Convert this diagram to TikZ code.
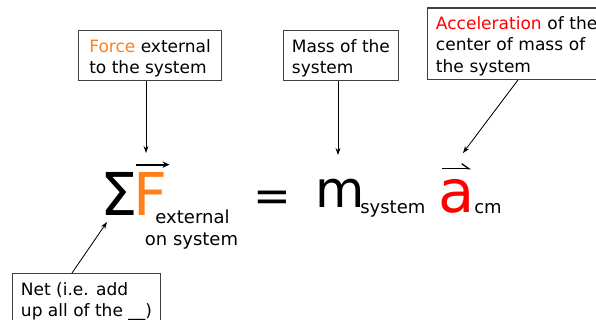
\documentclass[tikz,border=0pt]{standalone}
\usepackage{fontspec}
\setmainfont{DejaVu Sans}
\usetikzlibrary{arrows.meta, positioning}
\definecolor{forceOrange}{HTML}{FF7F1A}
\definecolor{accelRed}{HTML}{FF0000}
\definecolor{boxGray}{HTML}{404040}
\newcommand{\ls}{\rule[-2.2pt]{0pt}{15.1pt}}

\begin{document}
\begin{tikzpicture}[
    x=0.025cm, y=-0.025cm,
    note/.style={rectangle, draw=boxGray, line width=0.75pt, align=left,
                 font=\fontsize{12.1}{15.15}\selectfont,
                 inner xsep=6pt, inner ysep=2.5pt, anchor=north west},
    big/.style={inner sep=0pt, anchor=base west, font=\fontsize{#1}{#1}\selectfont},
    sub/.style={inner sep=0pt, anchor=base, font=\fontsize{12.8}{15}\selectfont},
    pointer/.style={-{Stealth[length=5pt, width=3.5pt]}, line width=0.6pt},
    vecF/.style={-{Stealth[length=5pt, width=4.5pt]}, line width=1.2pt},
    vecA/.style={-{Straight Barb[harpoon, length=5pt, width=7pt, line width=0.9pt]}, line width=0.9pt}
  ]
    \useasboundingbox (0,0) rectangle (596,320);

    % labels
    \node[note, minimum width=3.575cm] (forcebox) at (78,30)
      {\ls\textcolor{forceOrange}{Force} external\\\ls to the system};
    \node[note] (massbox) at (283,30)
      {\ls Mass of the\\\ls system};
    \node[note, text width=4.5cm] (accbox) at (427,7.5)
      {\ls\textcolor{accelRed}{Acceleration} of the\\\ls center of mass of\\\ls the system};
    \node[note] (netbox) at (12,273)
      {\ls Net (i.e. add\\\ls up all of the \_\_)};

    % equation
    \node[big=42] (sigma) at (100,215) {Σ};
    \node[big=42, text=forceOrange] (force) at (133,215) {F};
    \draw[vecF] ([shift={(3,-7)}]force.north west) -- ([shift={(2,-7)}]force.north east);
    \node[sub] (ext) at (192.5,223) {external};
    \node[sub] (onsys) at (191.5,245) {on system};
    \node[big=32] (eq) at (253,211) {=};
    \node[big=36] (mass) at (315,207) {m};
    \node[sub, anchor=base west] (sys) at (360,213) {system};
    \node[big=42, text=accelRed] (acc) at (438,212) {a};
    \draw[vecA] ([shift={(4,-10)}]acc.north west) -- ([shift={(-4,-10)}]acc.north east);
    \node[sub, anchor=base west] (cm) at (474,214) {cm};

    % pointers
    \coordinate (ftip) at (146,153);
    \coordinate (mtip) at (338,155);
    \coordinate (atip) at (463,153);
    \coordinate (ntip) at (107,222);
    \draw[pointer] (forcebox.south -| ftip) -- (ftip);
    \draw[pointer] (massbox.south -| mtip) -- (mtip);
    \draw[pointer] ([xshift=2.275cm]accbox.south west) -- (atip);
    \draw[pointer] ([xshift=1.5cm]netbox.north west) -- (ntip);
\end{tikzpicture}
\end{document}
